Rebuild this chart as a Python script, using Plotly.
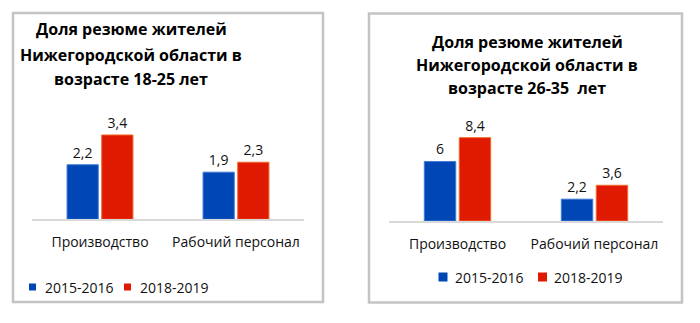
import plotly.graph_objects as go

# Categories and series values
categories = ["Производство", "Рабочий персонал"]
series_names = ["2015-2016", "2018-2019"]
values_18_25 = {"2015-2016": [2.2, 1.9], "2018-2019": [3.4, 2.3]}
values_26_35 = {"2015-2016": [6.0, 2.2], "2018-2019": [8.4, 3.6]}
title_18_25 = ["Доля резюме жителей", "Нижегородской области в", "возрасте 18-25 лет"]
title_26_35 = ["Доля резюме жителей", "Нижегородской области в", "возрасте 26-35  лет"]

colors = {"2015-2016": "#0047B5", "2018-2019": "#E01A00"}
outline = {"2015-2016": "#3F7BD6", "2018-2019": "#F06A2A"}
FONT = "Open Sans"

W, H = 700, 323


def px_x(x):
    return x / W


def px_y(y):
    return 1 - y / H


def fmt(v):
    return f"{v:g}".replace(".", ",")


fig = go.Figure()

panels = [(values_18_25, "x", "y"), (values_26_35, "x2", "y2")]
for vals, xa, ya in panels:
    for name in series_names:
        fig.add_trace(go.Bar(
            x=categories, y=vals[name], name=name,
            xaxis=xa, yaxis=ya,
            marker=dict(color=colors[name], line=dict(color=outline[name], width=1)),
            text=[fmt(v) for v in vals[name]], textposition="outside",
            textfont=dict(family=FONT, size=14, color="#111"),
            cliponaxis=False, showlegend=False,
        ))

axis_common = dict(showline=True, linecolor="#D9D9D9", linewidth=1.5, ticks="",
                   showgrid=False, zeroline=False, ticklabelstandoff=9,
                   tickfont=dict(family=FONT, size=14, color="#111"), fixedrange=True)
yaxis_common = dict(visible=False, showgrid=False, zeroline=False, fixedrange=True)

fig.update_layout(
    width=W, height=H, margin=dict(l=0, r=0, t=0, b=0),
    paper_bgcolor="white", plot_bgcolor="white",
    barmode="group", bargap=0.49, bargroupgap=0.1,
    xaxis=dict(domain=[px_x(32), px_x(304)], anchor="y", **axis_common),
    yaxis=dict(domain=[px_y(219.3), px_y(100)], range=[0, (219.3 - 100) / 24.8], anchor="x", **yaxis_common),
    xaxis2=dict(domain=[px_x(389), px_x(663)], anchor="y2", **axis_common),
    yaxis2=dict(domain=[px_y(221), px_y(100)], range=[0, (221 - 100) / 9.92], anchor="x2", **yaxis_common),
    showlegend=False,
)

# panel frames
for x0, y0, x1, y1 in [(13, 13, 323, 302), (369, 13.5, 682, 302.5)]:
    fig.add_shape(type="rect", xref="paper", yref="paper",
                  x0=px_x(x0), x1=px_x(x1), y0=px_y(y1), y1=px_y(y0),
                  line=dict(color="#C4C4C4", width=2.5), fillcolor="rgba(0,0,0,0)", layer="below")

# titles, one annotation per line
for lines, cx, ys in [(title_18_25, 131, [29, 55, 79]), (title_26_35, 527, [42, 65, 88])]:
    for line, yy in zip(lines, ys):
        fig.add_annotation(text=f"<b>{line}</b>", xref="paper", yref="paper",
                           x=px_x(cx), y=px_y(yy), xanchor="center", yanchor="middle",
                           showarrow=False, font=dict(family=FONT, size=16, color="#000"))

# legends: colored square key plus series name
legend_items = [
    # (series, square left x, text left x, y, square size)
    ("2015-2016", 29, 43, 287, 7),
    ("2018-2019", 124, 138, 287, 7),
    ("2015-2016", 438.5, 453, 277, 9),
    ("2018-2019", 538, 552, 277, 9),
]
for name, sx, tx, yy, s in legend_items:
    fig.add_shape(type="rect", xref="paper", yref="paper",
                  x0=px_x(sx), x1=px_x(sx + s), y0=px_y(yy + s / 2), y1=px_y(yy - s / 2),
                  line=dict(width=0), fillcolor=colors[name])
    fig.add_annotation(text=name, xref="paper", yref="paper",
                       x=px_x(tx), y=px_y(yy), xanchor="left", yanchor="middle",
                       showarrow=False, font=dict(family=FONT, size=14, color="#111"))

fig.write_html("out.html")
